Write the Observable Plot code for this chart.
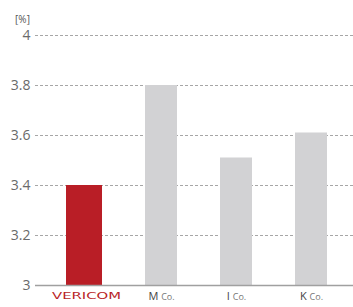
<!DOCTYPE html>
<html>
<head>
<meta charset="utf-8">
<script src="https://cdn.jsdelivr.net/npm/d3@7"></script>
<script src="https://cdn.jsdelivr.net/npm/@observablehq/plot@0.6"></script>
<style>
  html, body { margin: 0; padding: 0; background: #fff; }
  #chart svg { display: block; }
</style>
</head>
<body>
<div id="chart"></div>
<script>
const categories = ["VERICOM", "M Co.", "I Co.", "K Co."];
const values = [3.4, 3.8, 3.51, 3.61];
const yTicks = [3, 3.2, 3.4, 3.6, 3.8, 4];
const unitLabel = "[%]";
const highlight = "VERICOM";

const data = categories.map((c, i) => ({cat: c, value: values[i]}));

const plot = Plot.plot({
  width: 353,
  height: 307,
  marginTop: 35,
  marginBottom: 22,
  marginLeft: 35,
  marginRight: 0,
  style: {fontFamily: "'Open Sans', sans-serif", background: "#fff"},
  x: {domain: categories, range: [35, 362], paddingInner: 0.5733, paddingOuter: 0.4667, round: false, axis: null},
  y: {domain: [3, 4], axis: null},
  marks: [
    Plot.gridY(yTicks.filter(t => t > 3), {stroke: "#a6a6a6", strokeOpacity: 1, strokeDasharray: "3,2"}),
    Plot.barY(data.filter(d => d.cat !== highlight), {x: "cat", y1: 3, y2: "value", fill: "#d2d2d4"}),
    Plot.barY(data.filter(d => d.cat === highlight), {x: "cat", y1: 3, y2: "value", fill: "#b91e26", insetLeft: -2, insetRight: -2, dx: -2}),
    Plot.ruleY([3], {stroke: "#a0a0a0", strokeWidth: 1.5}),
    Plot.axisY({ticks: yTicks, tickSize: 0, tickPadding: 5, fontSize: 14, color: "#6a6a6a", label: null, tickFormat: d => String(d)}),
    Plot.axisX({tickSize: 0, tickPadding: 7, fontSize: 11, color: "#444", label: null}),
    Plot.text([unitLabel], {frameAnchor: "top-left", dx: -13, dy: -20, fontSize: 10, fill: "#555", textAnchor: "middle"})
  ]
});

// Style x tick labels: logo-like for VERICOM, large initial for companies
d3.select(plot).selectAll("g[aria-label='x-axis tick label'] text").each(function () {
  const t = d3.select(this);
  const label = t.text();
  if (label === highlight) {
    t.attr("fill", "#b91e26")
     .style("font-family", "'DejaVu Sans', sans-serif")
     .style("font-weight", "normal")
     .attr("font-size", 9.5)
     .attr("textLength", 69)
     .attr("lengthAdjust", "spacingAndGlyphs");
  } else {
    const parts = label.split(" ");
    t.text(null);
    t.append("tspan").attr("font-size", 11).text(parts[0] + " ");
    t.append("tspan").attr("font-size", 9).attr("fill", "#777").text(parts.slice(1).join(" "));
  }
});

document.getElementById("chart").appendChild(plot);
</script>
</body>
</html>
